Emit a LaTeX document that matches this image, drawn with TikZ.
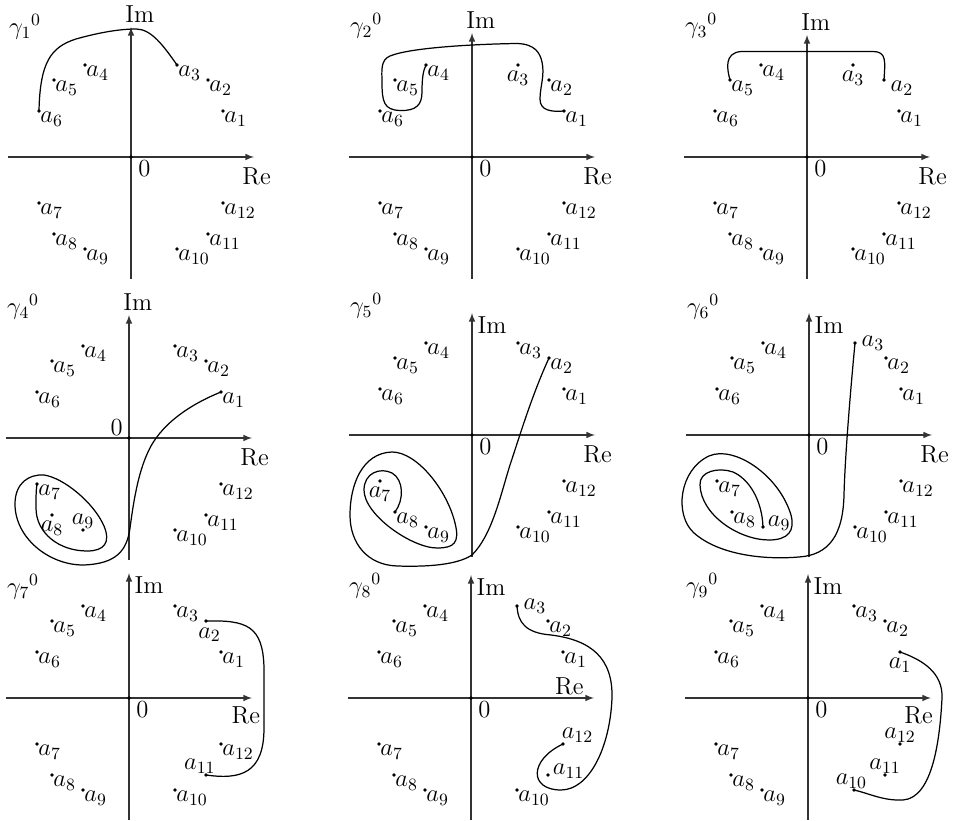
\documentclass[tikz,border=0pt]{standalone}
\usepackage{fix-cm}
\tikzset{
  ax/.style={->, line width=0.7pt, black!80},
  crv/.style={line width=0.7pt},
  albl/.style={inner sep=0.6pt, anchor=north west},
  lbelow/.style={anchor=north, yshift=-2.5pt},
  labove/.style={anchor=south},
  lright/.style={anchor=west, xshift=3pt},
  lbase/.style={anchor=base west, xshift=2pt},
  imlbl/.style={anchor=south, inner sep=0pt, shift={(5pt,2.3pt)}},
  imright/.style={imlbl/.style={anchor=north west, inner sep=0pt, shift={(3pt,-2pt)}}},
  relbl/.style={anchor=north, inner sep=0pt, shift={(1.5pt,-6pt)}},
  zerolbl/.style={anchor=north west, inner sep=0pt, shift={(4pt,-2pt)}},
  pan2/.style={lbl3/.style=lbelow},
  pan3/.style={lbl3/.style=lbelow, lbl2/.style={xshift=3pt}},
  pan4/.style={lbl8/.style=lbelow, lbl9/.style=labove,
    zerolbl/.style={anchor=south east, inner sep=0pt, shift={(-3.4pt,1.5pt)}}},
  pan5/.style={lbl7/.style=lbelow, imright},
  pan6/.style={lbl3/.style=lright, lbl9/.style=lbase, imright},
  pan7/.style={lbl2/.style={lbelow, xshift=2pt, yshift=-0.5pt},
    lbl11/.style={labove, xshift=-3.5pt}, imright,
    relbl/.style={anchor=north, inner sep=0pt, shift={(-3.5pt,-5pt)}}},
  pan8/.style={lbl3/.style=lright, lbl12/.style={anchor=south west, xshift=-1.5pt},
    lbl11/.style=lbase, imright,
    relbl/.style={anchor=south, inner sep=0pt, shift={(-14pt,1.5pt)}}},
  pan9/.style={lbl1/.style=lbelow, lbl12/.style=labove, lbl11/.style=labove,
    lbl10/.style={labove, xshift=-1.5pt}, imright,
    relbl/.style={anchor=north, inner sep=0pt, shift={(-7pt,-5pt)}}},
}
\begin{document}
\begin{tikzpicture}[x=0.02cm, y=0.02cm, >=latex, font=\fontsize{14}{17}\selectfont]
\useasboundingbox (0,0) rectangle (953,821);
\coordinate (o1) at (131,664);
\coordinate (o2) at (472,664);
\coordinate (o3) at (807,664);
\coordinate (o4) at (129,383);
\coordinate (o5) at (472,386);
\coordinate (o6) at (809,386);
\coordinate (o7) at (129,123);
\coordinate (o8) at (471,123);
\coordinate (o9) at (808,123);
\foreach \n/\gy/\tp in {1/130/130, 2/131/124, 3/131/122, 4/131/123, 5/129/122,
    6/128/122, 7/111/125, 8/112/123, 9/112/124} {
  \begin{scope}[shift={(o\n)}, name prefix=g\n-, pan\n/.try]
    \draw[ax] (-123,0) -- (123,0);
    \draw[ax] (0,-122) -- (0,\tp);
    \node[relbl] (re) at (123,0) {Re};
    \node[imlbl] (im) at (0,\tp) {Im};
    \fill (0,0) circle (1.1pt);
    \node[zerolbl] (zero) at (0,0) {$0$};
    \node (gam) at (-106,\gy) {$\gamma_{\n}{}^0$};
    \foreach \i/\px/\py in {1/92/46, 2/77/77, 3/46/92, 4/-46/92, 5/-77/77, 6/-92/46,
        7/-92/-46, 8/-77/-77, 9/-46/-92, 10/46/-92, 11/77/-77, 12/92/-46} {
      \coordinate (a\i) at (\px,\py);
      \fill (a\i) circle (1.1pt);
      \node[albl, lbl\i/.try] (l\i) at (a\i) {$a_{\i}$};
    }
  \end{scope}
}
\begin{scope}[shift={(o1)}, name prefix=g1-]
  \draw[crv] (a6) .. controls (-91,95) and (-80,110) .. (-55,118)
    .. controls (-30,125) and (-10,128) .. (5,128)
    .. controls (20,128) and (32,112) .. (a3);
\end{scope}
\begin{scope}[shift={(o2)}, name prefix=g2-]
  \draw[crv] (a1) .. controls (80,45) and (68,46) .. (68,58)
    .. controls (68,70) and (73,82) .. (70,95)
    .. controls (68,104) and (63,113) .. (45,113.5)
    .. controls (10,113) and (-60,110) .. (-82,101)
    .. controls (-92,97) and (-90,85) .. (-90,75)
    .. controls (-90,55) and (-88,47) .. (-72,46.5)
    .. controls (-56,46) and (-50,52) .. (-50,65)
    .. controls (-50,78) and (-49,86) .. (a4);
\end{scope}
\begin{scope}[shift={(o3)}, name prefix=g3-]
  \draw[crv] (a5) .. controls (-80,88) and (-83,104) .. (-66,105.5) -- (66,105.5)
    .. controls (80,105.5) and (78,95) .. (a2);
\end{scope}
\begin{scope}[shift={(o4)}, name prefix=g4-]
  \draw[crv] (a1) .. controls (60,33) and (35,15) .. (22,-8)
    .. controls (10,-30) and (5,-60) .. (1,-90)
    .. controls (-2,-112) and (-12,-126) .. (-46,-127)
    .. controls (-80,-127) and (-114,-100) .. (-114,-66)
    .. controls (-114,-45) and (-100,-36) .. (-85,-37)
    .. controls (-65,-40) and (-35,-65) .. (-25,-88)
    .. controls (-18,-105) and (-25,-113) .. (-42,-113)
    .. controls (-70,-113) and (-93,-95) .. (-93,-70)
    .. controls (-93,-60) and (-93,-52) .. (a7);
\end{scope}
\begin{scope}[shift={(o5)}, name prefix=g5-]
  \draw[crv] (a2) .. controls (60,40) and (48,0) .. (38,-30)
    .. controls (28,-62) and (20,-100) .. (0,-120)
    .. controls (-15,-130) and (-45,-132) .. (-75,-131)
    .. controls (-105,-130) and (-122,-108) .. (-122,-80)
    .. controls (-122,-50) and (-110,-18) .. (-80,-17)
    .. controls (-55,-17) and (-25,-55) .. (-17,-88)
    .. controls (-12,-108) and (-18,-113) .. (-35,-113)
    .. controls (-60,-113) and (-108,-80) .. (-108,-55)
    .. controls (-108,-38) and (-92,-32) .. (-80,-38)
    .. controls (-68,-45) and (-68,-65) .. (a8);
\end{scope}
\begin{scope}[shift={(o6)}, name prefix=g6-]
  \draw[crv] (a3) .. controls (42,50) and (36,-20) .. (35,-60)
    .. controls (34,-100) and (20,-120) .. (-10,-122)
    .. controls (-45,-125) and (-90,-120) .. (-115,-98)
    .. controls (-135,-80) and (-130,-35) .. (-100,-21)
    .. controls (-75,-10) and (-30,-40) .. (-18,-80)
    .. controls (-14,-95) and (-20,-105) .. (-40,-105)
    .. controls (-70,-105) and (-108,-80) .. (-109,-50)
    .. controls (-110,-36) and (-90,-32) .. (-76,-37)
    .. controls (-60,-44) and (-47,-65) .. (a9);
\end{scope}
\begin{scope}[shift={(o7)}, name prefix=g7-]
  \draw[crv] (a2) .. controls (118,78) and (134,72) .. (135,30) -- (135,-30)
    .. controls (135,-75) and (112,-82) .. (a11);
\end{scope}
\begin{scope}[shift={(o8)}, name prefix=g8-]
  \draw[crv] (a3) .. controls (47,75) and (55,65) .. (80,63)
    .. controls (120,58) and (142,40) .. (141,0)
    .. controls (139,-50) and (118,-92) .. (90,-92)
    .. controls (58,-92) and (58,-62) .. (a12);
\end{scope}
\begin{scope}[shift={(o9)}, name prefix=g9-]
  \draw[crv] (a1) .. controls (115,38) and (135,25) .. (134,0)
    .. controls (132,-40) and (125,-100) .. (95,-102)
    .. controls (75,-103) and (60,-95) .. (a10);
\end{scope}
\end{tikzpicture}
\end{document}
